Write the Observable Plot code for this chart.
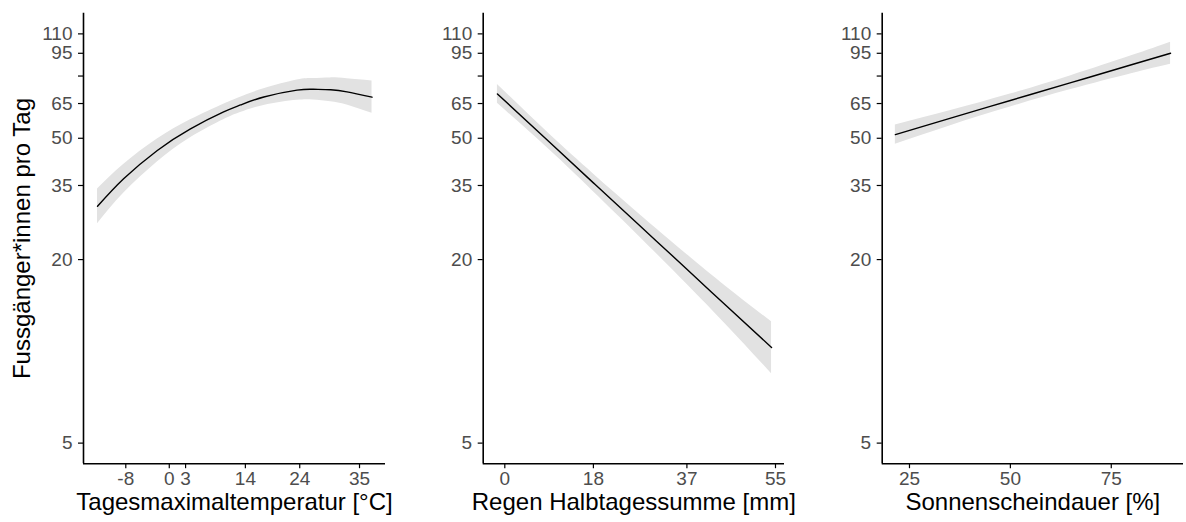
<!DOCTYPE html>
<html><head><meta charset="utf-8">
<script src="https://cdn.jsdelivr.net/npm/d3@7"></script>
<script src="https://cdn.jsdelivr.net/npm/@observablehq/plot@0.6"></script>
<style>
body{margin:0;background:#fff;}
#row{display:flex;width:1186px;height:522px;}
svg{display:block;}
</style></head><body><div id="row"></div>
<script>
// shared y axis
const yTicks = [5, 20, 35, 50, 65, 80, 95, 110];
const yDomain = [4.28, 128.5];
const yTitle = "Fussgänger*innen pro Tag";

// Panel 1: temperature
const tempTitle = "Tagesmaximaltemperatur [°C]";
const tempTicks = [-8, 0, 3, 14, 24, 35];
const tempDomain = [-15.78, 39.78];
const tempX   = [-13.2, -8.4, -2.2, 3.9, 10.0, 13.1, 17.4, 23.5, 26.5, 29.7, 32.7, 37.3];
const tempFit = [29.9, 36.8, 45.6, 53.7, 61.0, 64.3, 68.3, 71.9, 72.4, 72.1, 71.0, 68.2];
const tempLo  = [26.2, 33.0, 41.8, 50.2, 57.5, 60.7, 64.1, 66.6, 66.7, 65.9, 64.3, 60.4];
const tempHi  = [34.1, 41.0, 49.7, 57.5, 64.7, 68.2, 72.7, 77.7, 78.6, 78.9, 78.4, 77.1];

// Panel 2: rain
const rainTitle = "Regen Halbtagessumme [mm]";
const rainTicks = [0, 18, 37, 55];
const rainDomain = [-4.39, 56.83];
const rainX   = [-1.5, 9, 18, 27, 37, 45, 54.2];
const rainFit = [69.9, 48.7, 35.7, 26.2, 18.6, 14.1, 10.3];
const rainLo  = [65.1, 45.9, 33.4, 24.1, 16.6, 12.2, 8.45];
const rainHi  = [75.1, 51.7, 38.2, 28.5, 20.8, 16.3, 12.5];

// Panel 3: sunshine
const sunTitle = "Sonnenscheindauer [%]";
const sunTicks = [25, 50, 75];
const sunDomain = [18.24, 92.9];
const sunX   = [21.5, 35, 50, 65, 80, 89.7];
const sunFit = [51.4, 58.1, 66.5, 76.1, 87.1, 95.0];
const sunLo  = [47.8, 54.9, 63.3, 72.2, 81.4, 87.4];
const sunHi  = [55.3, 61.5, 69.8, 80.2, 93.2, 103.3];

const FONT = "'Liberation Sans', Arial, Helvetica, sans-serif";

function panel(o) {
  const rows = o.x.map((x, i) => ({x, fit: o.fit[i], lo: o.lo[i], hi: o.hi[i]}));
  const marks = [
    Plot.areaY(rows, {x: "x", y1: "lo", y2: "hi", fill: "#e2e2e2", curve: "natural"}),
    Plot.line(rows, {x: "x", y: "fit", stroke: "#000", strokeWidth: 1.4, curve: "natural"}),
    Plot.axisY({ticks: yTicks, tickFormat: d => String(d), tickSize: 5, tickPadding: 6,
      fontSize: 19, fill: "#4d4d4d", stroke: "#000", strokeWidth: 1.2, label: null}),
    Plot.axisX({ticks: o.xTicks, tickFormat: d => String(d), tickSize: 5, tickPadding: 3,
      fontSize: 19, fill: "#4d4d4d", stroke: "#000", strokeWidth: 1.2, label: null}),
    Plot.ruleX([o.xDomain[0]], {stroke: "#000", strokeWidth: 1.6}),
    Plot.ruleY([yDomain[0]], {stroke: "#000", strokeWidth: 1.6}),
    Plot.text([o.title], {text: d => d, frameAnchor: "bottom", dy: 46, fontSize: 24, fill: "#000"})
  ];
  if (o.yTitle) {
    marks.push(Plot.text([o.yTitle], {text: d => d, frameAnchor: "left", textAnchor: "middle",
      rotate: -90, dx: -61, fontSize: 24, fill: "#000"}));
  }
  return Plot.plot({
    width: o.width, height: 522,
    marginLeft: o.ml, marginRight: o.mr, marginTop: 12.8, marginBottom: 58.8,
    style: {fontFamily: FONT, background: "transparent", overflow: "visible"},
    x: {domain: o.xDomain},
    y: {type: "log", domain: yDomain},
    marks
  });
}

const row = document.getElementById("row");
row.append(panel({x: tempX, fit: tempFit, lo: tempLo, hi: tempHi, xDomain: tempDomain, xTicks: tempTicks,
  title: tempTitle, yTitle: yTitle, width: 395, ml: 83, mr: 10}));
row.append(panel({x: rainX, fit: rainFit, lo: rainLo, hi: rainHi, xDomain: rainDomain, xTicks: rainTicks,
  title: rainTitle, width: 395, ml: 87.7, mr: 6}));
row.append(panel({x: sunX, fit: sunFit, lo: sunLo, hi: sunHi, xDomain: sunDomain, xTicks: sunTicks,
  title: sunTitle, width: 396, ml: 91.7, mr: 3}));
</script></body></html>
